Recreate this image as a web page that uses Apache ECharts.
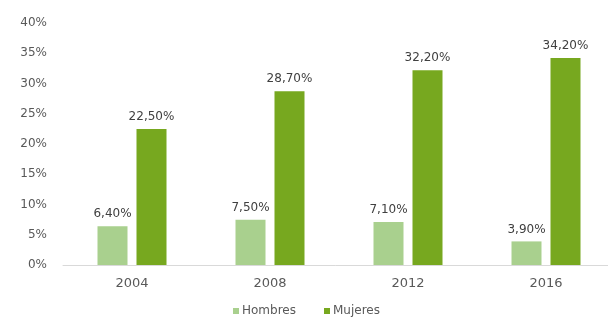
<!DOCTYPE html>
<html>
<head>
<meta charset="utf-8">
<script src="https://cdn.jsdelivr.net/npm/echarts@6/dist/echarts.min.js"></script>
<style>html,body{margin:0;padding:0;background:#fff;}#c{width:608px;height:319px;}</style>
</head>
<body>
<div id="c"></div>
<script>
var categories = ['2004', '2008', '2012', '2016'];
var hombres = [6.4, 7.5, 7.1, 3.9];
var mujeres = [22.5, 28.7, 32.2, 34.2];
var yTicks = [0, 5, 10, 15, 20, 25, 30, 35, 40];

var chart = echarts.init(document.getElementById('c'), null, {renderer: 'canvas'});
function fmt(v) { return v.toFixed(2).replace('.', ',') + '%'; }
var labelStyle = {
  show: true, position: 'top', distance: 6,
  color: '#404040', fontSize: 12, fontFamily: 'DejaVu Sans',
  formatter: function (p) { return fmt(p.value); }
};
chart.setOption({
  animation: false,
  backgroundColor: '#ffffff',
  textStyle: {fontFamily: 'DejaVu Sans'},
  grid: {left: 63, top: 23, width: 552, height: 242, containLabel: false, outerBoundsMode: 'none'},
  legend: {
    data: ['Hombres', 'Mujeres'],
    left: 228, top: 300,
    icon: 'rect', itemWidth: 6, itemHeight: 6, itemGap: 28,
    textStyle: {color: '#595959', fontSize: 12, fontFamily: 'DejaVu Sans', padding: [0, 0, 0, -2]}
  },
  xAxis: {
    type: 'category', data: categories,
    axisLine: {lineStyle: {color: '#d9d9d9'}},
    axisTick: {show: false},
    axisLabel: {color: '#595959', fontSize: 13, margin: 12, fontFamily: 'DejaVu Sans'}
  },
  yAxis: {
    type: 'value', min: yTicks[0], max: yTicks[yTicks.length - 1], interval: 5,
    splitLine: {show: false},
    axisLine: {show: false}, axisTick: {show: false},
    axisLabel: {color: '#595959', fontSize: 12, margin: 16, fontFamily: 'DejaVu Sans',
      formatter: function (v) { return v + '%'; }}
  },
  series: [
    {name: 'Hombres', type: 'bar', data: hombres, barWidth: 30, barGap: '30%',
     itemStyle: {color: '#a9d08e'}, label: labelStyle},
    {name: 'Mujeres', type: 'bar', data: mujeres, barWidth: 30, barGap: '30%',
     itemStyle: {color: '#77a81f'}, label: labelStyle}
  ]
});
</script>
</body>
</html>
